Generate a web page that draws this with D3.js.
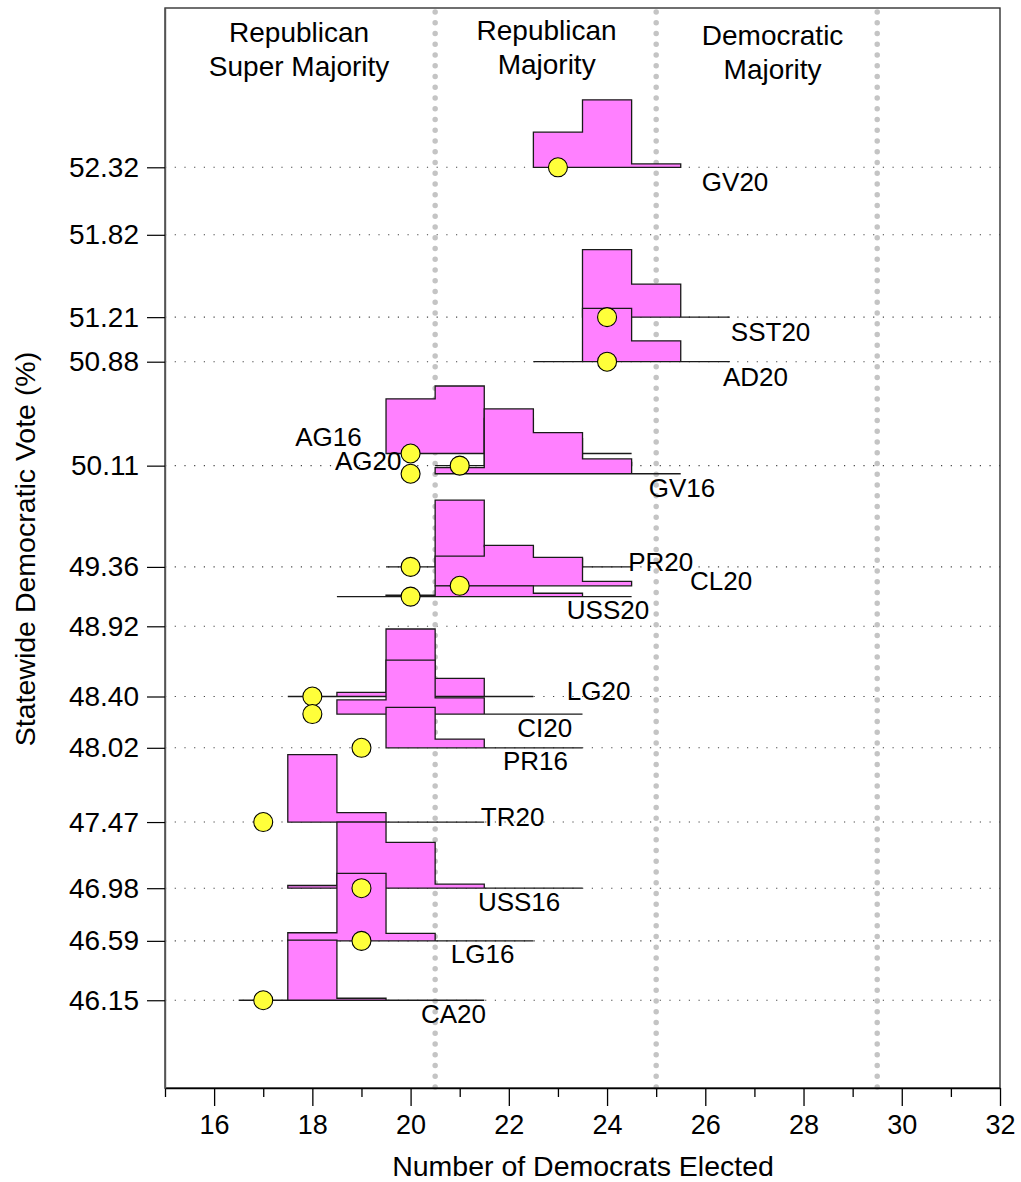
<!DOCTYPE html>
<html><head><meta charset="utf-8">
<script src="https://cdn.jsdelivr.net/npm/d3@7"></script>
<style>
body{margin:0;background:#fff}
text{font-family:"Liberation Sans",Arial,Helvetica,sans-serif;fill:#000}
</style>
</head><body>
<svg id="chart" width="1021" height="1182"></svg>
<script>
// ---------------- data ----------------
const elections   = ["GV20","SST20","AD20","AG16","AG20","GV16","PR20","CL20","USS20","LG20","CI20","PR16","TR20","USS16","LG16","CA20"];
const demVote     = [52.32, 51.21, 50.88, 50.20, 50.11, 50.05, 49.36, 49.22, 49.14, 48.40, 48.27, 48.02, 47.47, 46.98, 46.59, 46.15];
const actualSeats = [23, 24, 24, 20, 21, 20, 20, 21, 20, 18, 18, 19, 17, 19, 19, 17];
const firstBin    = [23, 24, 23, 20, 21, 21, 20, 21, 19, 18, 19, 20, 18, 18, 18, 17];
const binFreq = [
  [0.52, 1.00, 0.05],
  [1.00, 0.49, 0],
  [0, 0.79, 0.31, 0],
  [0.81, 1.00, 0, 0, 0],
  [0, 0.70, 0.40, 0.05],
  [0.09, 0.96, 0.61, 0.22, 0],
  [0, 0.99, 0.30, 0.12, 0],
  [0.44, 0.60, 0.42, 0.065],
  [0, 0.02, 0.16, 0.16, 0.05, 0],
  [0, 0.06, 1.00, 0.27, 0],
  [0.21, 0.80, 0.24, 0, 0],
  [0.60, 0.13, 0, 0],
  [1.00, 0.14, 0, 0],
  [0.04, 0.98, 0.68, 0.06, 0, 0],
  [0.12, 1.00, 0.11, 0, 0],
  [0, 0.89, 0.03, 0, 0]
];
const yTicks = [52.32, 51.82, 51.21, 50.88, 50.11, 49.36, 48.92, 48.40, 48.02, 47.47, 46.98, 46.59, 46.15];
const xTicks = [16, 18, 20, 22, 24, 26, 28, 30, 32];
const thresholds = [20.5, 25, 29.5];
const regionNames = [["Republican","Super Majority"],["Republican","Majority"],["Democratic","Majority"]];
const regionCenters = [17.73, 22.77, 27.37];

// label annotation anchors (seat, vote) for the election names
const labelAnchor = {
  GV20:[25.93,52.21], SST20:[26.52,51.10], AD20:[26.36,50.767],
  AG16:[17.65,50.325], AG20:[18.46,50.148], GV16:[24.85,49.944],
  PR20:[24.43,49.396], CL20:[25.69,49.256], USS20:[23.18,49.041],
  LG20:[23.18,48.441], CI20:[22.17,48.167], PR16:[21.88,47.922],
  TR20:[21.43,47.507], USS16:[21.37,46.878], LG16:[20.82,46.493], CA20:[20.21,46.048]
};

// ---------------- layout ----------------
const svg = d3.select("#chart");
const L = 165, R = 1000, T = 8, B = 1088;
const x = d3.scaleLinear().domain([15, 32]).range([L, R]);
const y = d3.scaleLinear().domain([45.5, 53.5]).range([B, T]);
const hScale = d3.scaleLinear().domain([0, 1]).range([0, 0.5]); // freq -> vote-% units

// horizontal dotted grid at y ticks
svg.append("g").selectAll("line").data(yTicks).join("line")
  .attr("x1", L).attr("x2", R)
  .attr("y1", d => y(d)).attr("y2", d => y(d))
  .attr("stroke", "#444").attr("stroke-width", 1.1)
  .attr("stroke-dasharray", "1.2,8.5");

// vertical threshold lines (gray dots)
svg.append("g").selectAll("line").data(thresholds).join("line")
  .attr("x1", d => x(d)).attr("x2", d => x(d))
  .attr("y1", T + 4).attr("y2", B)
  .attr("stroke", "#c4c4c4").attr("stroke-width", 5.5)
  .attr("stroke-linecap", "round")
  .attr("stroke-dasharray", "0,10.75");

// histograms
const line = d3.line();
const hist = svg.append("g");
elections.forEach((name, i) => {
  const v = demVote[i], f = firstBin[i], h = binFreq[i];
  const pts = [[x(f - 0.5), y(v)]];
  h.forEach((fr, k) => {
    const top = y(v + hScale(fr));
    pts.push([x(f + k - 0.5), top]);
    pts.push([x(f + k + 0.5), top]);
  });
  pts.push([x(f + h.length - 0.5), y(v)]);
  hist.append("path")
    .attr("d", line(pts) + "Z")
    .attr("fill", "#ff80ff")
    .attr("stroke", "#1a1a1a").attr("stroke-width", 1.3)
    .attr("stroke-linejoin", "miter");
});

// actual outcome dots
svg.append("g").selectAll("circle").data(elections).join("circle")
  .attr("cx", (d, i) => x(actualSeats[i]))
  .attr("cy", (d, i) => y(demVote[i]))
  .attr("r", 9.5)
  .attr("fill", "#ffff3a").attr("stroke", "#000").attr("stroke-width", 1.1);

// election labels
svg.append("g").selectAll("text").data(elections).join("text")
  .attr("x", d => x(labelAnchor[d][0]))
  .attr("y", d => y(labelAnchor[d][1]))
  .attr("dy", "0.35em")
  .attr("font-size", 26)
  .text(d => d);

// region titles
const rg = svg.append("g");
regionNames.forEach((lines, i) => {
  const yOff = [32, 30, 35][i];
  lines.forEach((t, j) => {
    rg.append("text")
      .attr("x", x(regionCenters[i]))
      .attr("y", yOff + j * 34)
      .attr("dy", "0.35em")
      .attr("text-anchor", "middle")
      .attr("font-size", 28)
      .text(t);
  });
});

// frame
svg.append("rect").attr("x", L).attr("y", T).attr("width", R - L).attr("height", B - T)
  .attr("fill", "none").attr("stroke", "#333").attr("stroke-width", 1.4);

// x axis
const xAxis = svg.append("g").attr("transform", `translate(0,${B})`);
xAxis.call(d3.axisBottom(x).tickValues(d3.range(15, 33)).tickFormat("").tickSize(9).tickSizeOuter(0));
xAxis.call(g => g.select(".domain").attr("stroke", "#000").attr("stroke-width", 1.4));
xAxis.selectAll(".tick line").attr("stroke", "#000").attr("stroke-width", 1.3)
  .attr("y2", d => (xTicks.includes(d) ? 18 : 9));
xAxis.selectAll(".tick").filter(d => xTicks.includes(d)).append("text")
  .attr("y", 37).attr("dy", "0.35em").attr("text-anchor", "middle")
  .attr("font-size", 27).attr("fill", "#000")
  .text(d => d);

// y axis
const yAxis = svg.append("g").attr("transform", `translate(${L},0)`);
yAxis.call(d3.axisLeft(y).tickValues(yTicks).tickFormat(d3.format(".2f")).tickSize(18).tickPadding(8).tickSizeOuter(0));
yAxis.select(".domain").attr("stroke", "#555").attr("stroke-width", 1.4);
yAxis.selectAll(".tick line").attr("stroke", "#000").attr("stroke-width", 1.2);
yAxis.selectAll(".tick text").attr("font-size", 28).attr("fill", "#000")
  .style("font-family", '"Liberation Sans",Arial,Helvetica,sans-serif');

// axis titles
svg.append("text").attr("x", 583).attr("y", 1166).attr("dy", "0.35em")
  .attr("text-anchor", "middle").attr("font-size", 28.5).text("Number of Democrats Elected");
svg.append("text").attr("transform", "translate(25,549) rotate(-90)").attr("dy", "0.35em")
  .attr("text-anchor", "middle").attr("font-size", 28.5).text("Statewide Democratic Vote (%)");
</script>
</body></html>
